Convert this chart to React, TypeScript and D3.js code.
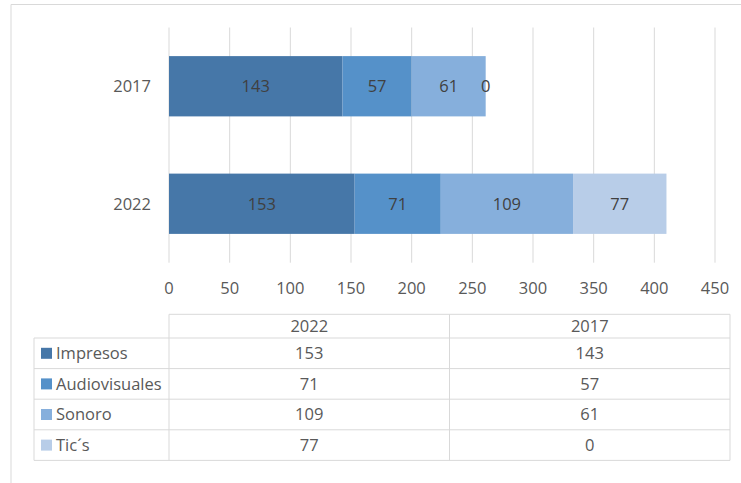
import React from "react";
import * as d3 from "d3";

const years = ["2017", "2022"];
const tableYears = ["2022", "2017"];
const seriesNames = ["Impresos", "Audiovisuales", "Sonoro", "Tic´s"];
const impresos = [143, 153];
const audiovisuales = [57, 71];
const sonoro = [61, 109];
const tics = [0, 77];
const xTicks = [0, 50, 100, 150, 200, 250, 300, 350, 400, 450];
const colors = ["#4677A8", "#5591C9", "#86AFDC", "#B8CDE8"];

const W = 741;
const H = 483;
const FONT = "'Open Sans', sans-serif";
const FS = 16.5;

export default function App() {
  const seriesValues = [impresos, audiovisuales, sonoro, tics];
  const rows = years.map((y, i) => {
    const r: any = { year: y };
    seriesNames.forEach((s, k) => (r[s] = seriesValues[k][i]));
    return r;
  });
  const stack = d3.stack<any>().keys(seriesNames)(rows);

  const x = d3.scaleLinear().domain([0, 450]).range([169, 715]);
  const yBand = d3.scaleBand().domain(years).range([27.5, 262.5]).padding(0);
  const barH = yBand.bandwidth() * 0.513;

  const gridTop = 27.5;
  const gridBottom = 262.7;

  // table layout
  const tLeft = 34;
  const tDataLeft = 169;
  const tRight = 730;
  const colW = (tRight - tDataLeft) / tableYears.length;
  const headTop = 314.3;
  const headBottom = 338;
  const rowH = 30.6;
  const gridColor = "#D9D9D9";
  const textColor = "#595959";
  const labelColor = "#404040";

  return (
    <svg
      width={W}
      height={H}
      style={{ position: "absolute", left: 0, top: 0, background: "#fff" }}
      fontFamily={FONT}
    >
      <rect x={0} y={0} width={W} height={H} fill="#fff" />
      {/* outer chart border */}
      <line x1={11} x2={W + 5} y1={4.5} y2={4.5} stroke={gridColor} strokeWidth={1} />
      <line x1={11} x2={11} y1={4.5} y2={H + 5} stroke={gridColor} strokeWidth={1} />

      {/* gridlines */}
      {xTicks.map((t) => (
        <line
          key={t}
          x1={x(t)}
          x2={x(t)}
          y1={gridTop}
          y2={gridBottom}
          stroke={gridColor}
          strokeWidth={1}
        />
      ))}

      {/* bars */}
      {stack.map((layer, k) =>
        layer.map((d, i) => {
          const yc = (yBand(years[i]) as number) + yBand.bandwidth() / 2;
          const x0 = x(d[0]);
          const x1 = x(d[1]);
          return (
            <g key={`${k}-${i}`}>
              <rect
                x={x0}
                y={yc - barH / 2}
                width={Math.max(0, x1 - x0)}
                height={barH}
                fill={colors[k]}
              />
              <text
                x={(x0 + x1) / 2}
                y={yc}
                dy="0.35em"
                textAnchor="middle"
                fontSize={FS}
                fill={labelColor}
              >
                {d[1] - d[0]}
              </text>
            </g>
          );
        })
      )}

      {/* category labels */}
      {years.map((y) => (
        <text
          key={y}
          x={151}
          y={(yBand(y) as number) + yBand.bandwidth() / 2}
          dy="0.35em"
          textAnchor="end"
          fontSize={FS}
          fill={textColor}
        >
          {y}
        </text>
      ))}

      {/* x tick labels */}
      {xTicks.map((t) => (
        <text
          key={t}
          x={x(t)}
          y={294}
          textAnchor="middle"
          fontSize={FS}
          fill={textColor}
        >
          {t}
        </text>
      ))}

      {/* data table */}
      <line x1={tDataLeft} x2={tRight} y1={headTop} y2={headTop} stroke={gridColor} />
      {seriesNames.map((_, r) => (
        <line
          key={`h${r}`}
          x1={tLeft}
          x2={tRight}
          y1={headBottom + r * rowH}
          y2={headBottom + r * rowH}
          stroke={gridColor}
        />
      ))}
      <line
        x1={tLeft}
        x2={tRight}
        y1={headBottom + seriesNames.length * rowH}
        y2={headBottom + seriesNames.length * rowH}
        stroke={gridColor}
      />
      <line
        x1={tLeft}
        x2={tLeft}
        y1={headBottom}
        y2={headBottom + seriesNames.length * rowH}
        stroke={gridColor}
      />
      {[0, 1, 2].map((c) => (
        <line
          key={`v${c}`}
          x1={tDataLeft + c * colW}
          x2={tDataLeft + c * colW}
          y1={headTop}
          y2={headBottom + seriesNames.length * rowH}
          stroke={gridColor}
        />
      ))}
      {tableYears.map((y, c) => (
        <text
          key={`hy${y}`}
          x={tDataLeft + colW * (c + 0.5)}
          y={(headTop + headBottom) / 2}
          dy="0.35em"
          textAnchor="middle"
          fontSize={FS}
          fill={textColor}
        >
          {y}
        </text>
      ))}
      {seriesNames.map((s, r) => {
        const yc = headBottom + rowH * (r + 0.5);
        return (
          <g key={`row${s}`}>
            <rect x={41} y={yc - 5.5} width={11} height={11} fill={colors[r]} />
            <text x={56} y={yc} dy="0.35em" fontSize={FS} fill={textColor}>
              {s}
            </text>
            {tableYears.map((y, c) => (
              <text
                key={`c${y}`}
                x={tDataLeft + colW * (c + 0.5)}
                y={yc}
                dy="0.35em"
                textAnchor="middle"
                fontSize={FS}
                fill={textColor}
              >
                {seriesValues[r][years.indexOf(y)]}
              </text>
            ))}
          </g>
        );
      })}
    </svg>
  );
}
